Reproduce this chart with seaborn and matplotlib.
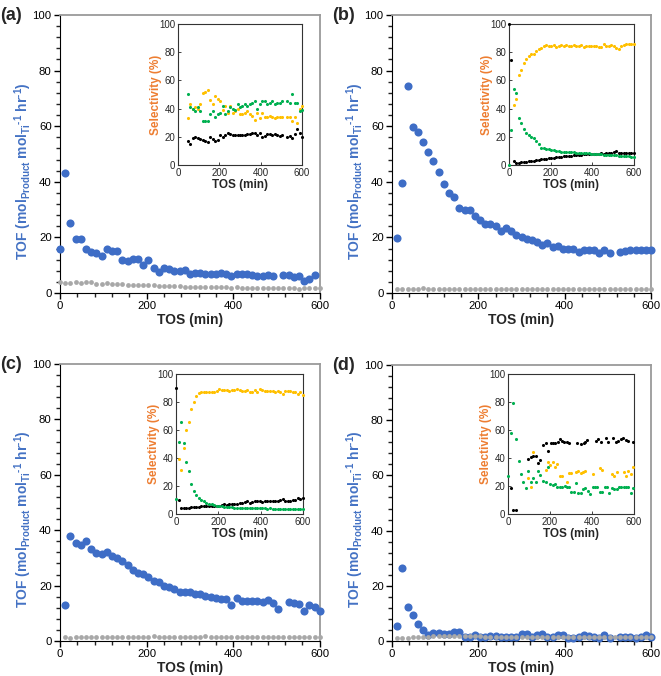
import numpy as np
import matplotlib
matplotlib.use('Agg')
import matplotlib.pyplot as plt
import seaborn as sns

sns.set_style('ticks')
plt.rcParams['font.family'] = ['Liberation Sans', 'DejaVu Sans']
plt.rcParams['mathtext.fontset'] = 'custom'
plt.rcParams['mathtext.rm'] = 'Liberation Sans:bold'
plt.rcParams['mathtext.bf'] = 'Liberation Sans:bold'
plt.rcParams['mathtext.default'] = 'bf'

nan = np.nan

# ---- main panels: TOF vs TOS, sampled every 12 min (0..600) ----
tos_main = np.arange(0, 601, 12)

tof_a = [15.7, 43.3, 25.3, 19.5, 19.3, 15.8, 14.9, 14.3, 13.4, 15.7, 15.1, 15.0, 11.9,
         11.5, 12.2, 12.2, 10.0, 11.8, 9.1, 7.4, 8.9, 8.5, 7.9, 7.9, 8.3, 6.7, 7.2, 7.1,
         6.8, 6.8, 6.8, 7.3, 6.8, 6.2, 7.0, 6.8, 6.7, 6.6, 6.2, 6.1, 6.5, 6.1, nan, 6.6,
         6.5, 5.6, 6.0, 4.3, 5.2, 6.5, nan]
blank_a = [4.1, 3.7, 3.6, 4.1, 3.6, 3.8, 3.8, 3.4, 3.2, 3.5, 3.2, 3.1, 3.1, 2.9, 2.8,
           2.8, 2.9, 2.9, 2.7, 2.6, 2.6, 2.5, 2.4, 2.4, 2.3, 2.3, 2.2, 2.2, 2.1, 2.1, 2.0,
           2.0, 2.0, 1.9, 2.0, 1.9, 1.9, 1.9, 1.9, 1.8, 1.8, 1.8, 1.8, 1.8, 1.7, 1.8, 1.5,
           1.8, 1.7, 1.7, 1.7]

tof_b = [nan, 19.8, 39.7, 74.6, 59.8, 57.8, 54.3, 50.8, 47.4, 43.5, 39.1, 36.1, 34.4,
         30.7, 29.9, 29.9, 27.6, 26.3, 24.8, 24.8, 24.1, 22.3, 23.3, 22.4, 20.7, 20.1,
         19.5, 19.1, 18.2, 17.4, 18.1, 16.4, 16.9, 15.9, 15.9, 15.9, 14.7, 15.5, 15.5,
         15.6, 14.5, 15.3, 14.4, nan, 14.7, 15.0, 15.5, 15.3, 15.3, 15.3, 15.5]
blank_b = [nan, 1.5, 1.5, 1.5, 1.6, 1.6, 1.8, 1.5, 1.5, 1.5, 1.5, 1.5, 1.5, 1.5, 1.5,
           1.5, 1.5, 1.5, 1.5, 1.5, 1.5, 1.5, 1.5, 1.5, 1.5, 1.5, 1.5, 1.5, 1.5, 1.5, 1.5,
           1.5, 1.5, 1.5, 1.5, 1.5, 1.5, 1.5, 1.5, 1.5, 1.5, 1.5, 1.5, 1.5, 1.5, 1.5, 1.5,
           1.5, 1.5, 1.5, 1.5]

tof_c = [nan, 12.9, 38.0, 35.4, 34.5, 36.0, 33.1, 31.9, 31.4, 32.1, 30.7, 29.8, 29.0,
         27.3, 25.6, 24.4, 24.1, 23.1, 21.5, 21.2, 19.7, 19.6, 18.7, 17.8, 17.8, 17.7,
         17.1, 16.8, 16.4, 16.0, 15.6, 15.3, 15.2, 13.0, 15.5, 14.6, 14.6, 14.6, 14.6,
         14.1, 14.8, 13.7, 11.6, nan, 14.2, 13.6, 13.4, 10.7, 13.1, 12.4, 10.7]
blank_c = [nan, 1.3, 1.2, 1.3, 1.4, 1.4, 1.3, 1.3, 1.4, 1.4, 1.3, 1.3, 1.3, 1.4, 1.4,
           1.3, 1.3, 1.3, 1.7, 1.3, 1.4, 1.3, 1.3, 1.3, 1.3, 1.3, 1.3, 1.4, 1.7, 1.3, 1.3,
           1.3, 1.3, 1.3, 1.3, 1.3, 1.3, 1.3, 1.3, 1.3, 1.3, 1.3, 1.3, 1.3, 1.3, 1.3, 1.3,
           1.3, 1.3, 1.3, 1.3]

tof_d = [nan, 5.4, 26.3, 12.4, 9.4, 6.2, 4.0, 2.2, 2.8, 2.8, 2.6, 2.7, 3.3, 3.2, 1.6,
         1.6, 2.1, 1.6, 1.6, 1.7, 1.7, 1.6, 1.6, 1.6, 1.6, 2.4, 2.5, 1.5, 2.3, 2.4, 1.5,
         1.5, 2.3, 2.3, 1.2, 1.1, 1.3, 2.2, 1.8, 1.3, 1.2, 2.2, 1.0, nan, 1.5, 1.4, 1.3,
         1.2, 1.4, 2.1, 1.5]
blank_d = [nan, 1.0, 1.2, 1.2, 1.3, 1.3, 1.4, 1.6, 1.7, 1.7, 1.8, 1.8, 1.8, 1.9, 1.9,
           1.7, 1.7, 1.7, 1.6, 1.6, 1.6, 1.6, 1.6, 1.5, 1.5, 1.6, 1.6, 1.5, 1.6, 1.6, 1.5,
           1.5, 1.6, 1.6, 1.4, 1.4, 1.4, 1.6, 1.5, 1.4, 1.4, 1.6, 1.3, 1.5, 1.4, 1.4, 1.4,
           1.4, 1.4, 1.6, 1.5]

# ---- insets: selectivity (%) ----
tos_in_a = np.arange(48, 601, 12)
sel_y_a = [33, 43, 40, 41, 40, 43, 51, 52, 53, 46, 43, 49, 47, 45, 39, 42, 37, 42, 37,
           38, 40, 36, 36, 37, 38, 36, 35, 32, 37, 33, 37, 34, 34, 35, 34, 33, 34, 34,
           34, nan, 34, 34, 31, 34, 30, 40, 42]
sel_g_a = [50, 41, 40, 38, 41, 38, 31, 31, 31, 36, 38, 34, 36, 37, 42, 36, 38, 41, 40,
           39, 43, 41, 42, 43, 42, 43, 44, 45, 40, 43, 45, 45, 43, 44, 45, 43, 44, 44,
           45, nan, 45, 44, 50, 44, 44, 38, 39]
sel_k_a = [17.3, 15.2, 19, 19.9, 19.2, 18.5, 17.5, 16.8, 16.2, 20, 18.5, 17, 18, 21,
           19.5, 21, 23, 22, 21.5, 21.5, 21.5, 21, 21, 21.5, 22, 22, 23, 23, 21.5, 22.5,
           20, 20.5, 22, 22, 21.5, 22, 21, 20.5, 21.5, nan, 20, 20.5, 19, 22, 25.5,
           22.5, 20]

tos_in = np.arange(0, 601, 12)
sel_y_b = [nan, nan, 42.4, 47, 63.7, 67, 72, 75, 77, 79, 79, 81, 82, 83, 84, 85, 84,
           84, 85, 83.5, 84.5, 85, 84.5, 85, 84.5, 84.5, 85, 84.5, 84, 85, 83.5, 84,
           84.5, 84, 84.5, 84, 83.5, 83.5, 85.5, 84.5, 84, 85, 84.5, 83, 82.5, 84.5, 85,
           85.5, 85.5, 85.5, 86]
sel_g_b = [0, 24.6, 53.6, 50.7, 33.4, 29.4, 25.4, 22.7, 21, 19.7, 19.2, 16.8, 15.2, 12,
           11.8, 11.5, 11, 10.5, 10.8, 10, 9.8, 9.5, 9.3, 9.3, 9, 9, 9, 8.8, 8.5, 8.5,
           8.5, 8.8, 8.2, 8, 8, 7.8, 7.8, 7.5, 7, 7.2, 7, 7, 6.8, 6.8, 6.5, 6.5, 6.2, 6,
           6, 5.8, 5.8]
sel_k_b = [100, 74.4, 2.8, 1.4, 1.7, 2, 2.2, 2.4, 2.6, 2.8, 3, 3.3, 3.6, 3.9, 4.2, 4.4,
           4.7, 5, 5.2, 5.4, 5.6, 5.8, 6, 6.2, 6.4, 6.6, 6.8, 7, 7.2, 7.4, 7.5, 7.6, 7.8,
           7.9, 8, 8, 8.1, 8.2, 7.5, 8.5, 8.5, 8.8, 9, 10, 8.5, 8.2, 8.2, 8.2, 8.2, 8.2,
           8.2]

sel_y_c = [nan, 39.5, 31.4, 47, 60, 66, 75, 80, 84, 86.5, 87.5, 87, 87.5, 87.5, 87.5,
           87.5, 88, 89, 88.5, 88.5, 88.5, 88, 88.5, 88.5, 89, 88.5, 88, 88, 88.5, 87.5,
           87.5, 88.5, 87, 89, 88.5, 88, 88, 88, 88, 87.5, 88, 87.5, 86, 88, 88, 88, 87.5,
           87, 85.5, 87, 85]
sel_g_c = [11, 51.7, 66, 50.5, 37, 31, 21.4, 16.4, 13.6, 11.7, 10, 9, 8, 7.5, 7, 6.5,
           6, 5.5, 5.5, 5, 5, 5, 4.8, 4.5, 4.5, 4.5, 4.3, 4.3, 4.2, 4, 4, 4, 4.2, 4, 4, 4,
           3.8, 4, 3.8, 3.8, 3.8, 3.8, 3.8, 3.7, 3.7, 3.7, 3.6, 3.5, 3.5, 3.6, 3.5]
sel_k_c = [90, 10, 4, 4.3, 4.3, 4.5, 4.8, 5, 5, 5.2, 5.5, 5.5, 6, 6, 6, 5.8, 6, 6, 6.2,
           7.5, 6.5, 7, 7.5, 7.5, 7.5, 7.8, 8, 8.5, 9, 8, 8.5, 9, 9.5, 9, 8.8, 9, 9, 9, 9,
           9.5, 9, 10, 11, 9.5, 9.5, 9.5, 10, 10, 11.5, 11, 11.5]

tos_g_d = [0, 14, 25, 37, 51, 62, 73, 86, 97, 108, 121, 133, 144, 154, 168, 179, 189,
           200, 213, 224, 235, 248, 259, 270, 279, 290, 302, 313, 324, 335, 346, 357,
           368, 379, 390, 403, 414, 425, 438, 449, 460, 471, 483, 494, 506, 517, 529,
           540, 551, 562, 573, 584, 597]
sel_g_d = [27, 57.6, 79.3, 53.6, 37.9, 28.3, 22.9, 18.8, 30.7, 23, 25.5, 22.6, 30.7,
           27.9, 23.8, 23.1, 33.3, 21.4, 20.7, 21.2, 19, 19, 19, 20, 19, 19, 15.5, 15.5,
           22, 14.8, 14.8, 17.9, 18.8, 16.4, 14.3, 19.5, 19.5, 19, 15.5, 15.5, 19, 19.5,
           15.2, 18.8, 17.9, 17.6, 19, 19, 19, 19, 19, 14.8, 18.3]
tos_k_d = [14, 25, 37, 97, 110, 121, 133, 144, 154, 168, 179, 192, 203, 214, 225, 238,
           248, 259, 268, 279, 290, 327, 350, 362, 368, 378, 417, 430, 441, 465, 478,
           502, 513, 525, 537, 549, 560, 573, 597]
sel_k_d = [18.8, 2.9, 2.9, 39.3, 40.5, 41.4, 41.4, 36.2, 38.6, 49.3, 50.5, 45.2, 50.5,
           50.5, 50.5, 51.7, 53.6, 52.4, 51.7, 51.7, 51, 51, 50, 51, 51.2, 52.9, 51.9,
           53.8, 51.7, 54, 51.7, 54, 51.2, 52, 53.6, 54.5, 52.9, 52, 51.2]
tos_y_d = [97, 108, 121, 179, 189, 200, 213, 224, 235, 248, 259, 279, 290, 302, 324,
           335, 346, 357, 368, 403, 438, 449, 494, 506, 517, 551, 562, 573, 584, 597]
sel_y_d = [25.5, 19, 44.5, 31.4, 36.9, 35, 36.9, 33.8, 35.5, 27.4, 27, 23, 29.5, 29,
           30.2, 31, 29, 30.2, 30.7, 28.3, 32.6, 31.4, 28.3, 27.4, 30.2, 29.8, 27.4, 30.7,
           28.3, 33.3]

BLUE = '#3e6dc6'
GREY = '#a8a8a8'
GOLD = '#ffc000'
GREEN = '#00b050'
LABEL_BLUE = '#4472c4'
LABEL_ORANGE = '#ed7d31'

ylab = r'TOF (mol$_{Product}$ mol$_{Ti}$$^{\text{-1}}$ hr$^{\text{-1}}$)'

fig = plt.figure(figsize=(6.61, 6.76), dpi=100)

main_boxes = {
    'a': [0.0908, 0.5666, 0.393, 0.4112],
    'b': [0.5930, 0.5666, 0.392, 0.4112],
    'c': [0.0908, 0.0518, 0.393, 0.4097],
    'd': [0.5930, 0.0518, 0.392, 0.4082],
}
inset_boxes = {
    'a': [0.2693, 0.7560, 0.1876, 0.2086],
    'b': [0.7700, 0.7560, 0.1891, 0.2086],
    'c': [0.2663, 0.2396, 0.1921, 0.2071],
    'd': [0.7685, 0.2396, 0.1906, 0.2071],
}
main_data = {
    'a': (tof_a, blank_a), 'b': (tof_b, blank_b),
    'c': (tof_c, blank_c), 'd': (tof_d, blank_d),
}
inset_data = {
    'a': [(tos_in_a, sel_k_a, 'black'), (tos_in_a, sel_y_a, GOLD), (tos_in_a, sel_g_a, GREEN)],
    'b': [(tos_in, sel_k_b, 'black'), (tos_in, sel_y_b, GOLD), (tos_in, sel_g_b, GREEN)],
    'c': [(tos_in, sel_k_c, 'black'), (tos_in, sel_y_c, GOLD), (tos_in, sel_g_c, GREEN)],
    'd': [(tos_k_d, sel_k_d, 'black'), (tos_y_d, sel_y_d, GOLD), (tos_g_d, sel_g_d, GREEN)],
}


def style_main(ax):
    ax.set_xlim(0, 600)
    ax.set_ylim(0, 100)
    ax.set_xticks([0, 200, 400, 600])
    ax.set_yticks([0, 20, 40, 60, 80, 100])
    ax.set_xticks(np.arange(0, 601, 40), minor=True)
    ax.set_yticks(np.arange(0, 101, 4), minor=True)
    ax.tick_params(which='major', direction='out', length=4, width=1.0,
                   labelsize=8.2, pad=2, colors='black', bottom=True, left=True)
    ax.tick_params(which='minor', direction='out', length=3, width=1.0,
                   color='#222222', bottom=True, left=True)
    for s in ['left', 'bottom']:
        ax.spines[s].set_color('black')
        ax.spines[s].set_linewidth(0.8)
    for s in ['top', 'right']:
        ax.spines[s].set_visible(True)
        ax.spines[s].set_color('#9a9a9a')
        ax.spines[s].set_linewidth(1.3)
    ax.set_xlabel('TOS (min)', fontsize=10, fontweight='bold', labelpad=1)
    ax.set_ylabel(ylab, fontsize=10, fontweight='bold', color=LABEL_BLUE)
    ax.yaxis.set_label_coords(-0.10, 0.44)


def style_inset(ax):
    ax.set_xlim(0, 600)
    ax.set_ylim(0, 100)
    ax.set_xticks([0, 200, 400, 600])
    ax.set_yticks([0, 20, 40, 60, 80, 100])
    ax.tick_params(direction='in', length=2.5, width=0.6, labelsize=7, pad=2)
    for s in ax.spines.values():
        s.set_visible(True)
        s.set_color('#333333')
        s.set_linewidth(0.8)
    ax.set_xlabel('TOS (min)', fontsize=8.5, fontweight='bold', labelpad=1)
    ax.set_ylabel('Selectivity (%)', fontsize=8.5, fontweight='bold',
                  color=LABEL_ORANGE)
    ax.yaxis.set_label_coords(-0.126, 0.5)


for key in ['a', 'b', 'c', 'd']:
    ax = fig.add_axes(main_boxes[key])
    tof, blank = main_data[key]
    sns.scatterplot(x=tos_main, y=tof, ax=ax, color=BLUE, s=34, linewidth=0,
                    clip_on=False, zorder=3)
    sns.scatterplot(x=tos_main, y=blank, ax=ax, color=GREY, s=12, linewidth=0,
                    clip_on=False, zorder=4)
    style_main(ax)
    fig.text(main_boxes[key][0] - 0.0908, main_boxes[key][1] + main_boxes[key][3] + 0.012,
             '(' + key + ')', fontsize=13, fontweight='bold', va='top', ha='left')

    axi = fig.add_axes(inset_boxes[key])
    axi.set_facecolor('white')
    for xs, ys, col in inset_data[key]:
        sns.scatterplot(x=xs, y=ys, ax=axi, color=col, s=5, linewidth=0,
                        clip_on=False, zorder=3)
    style_inset(axi)

fig.savefig('out.png', dpi=100)
